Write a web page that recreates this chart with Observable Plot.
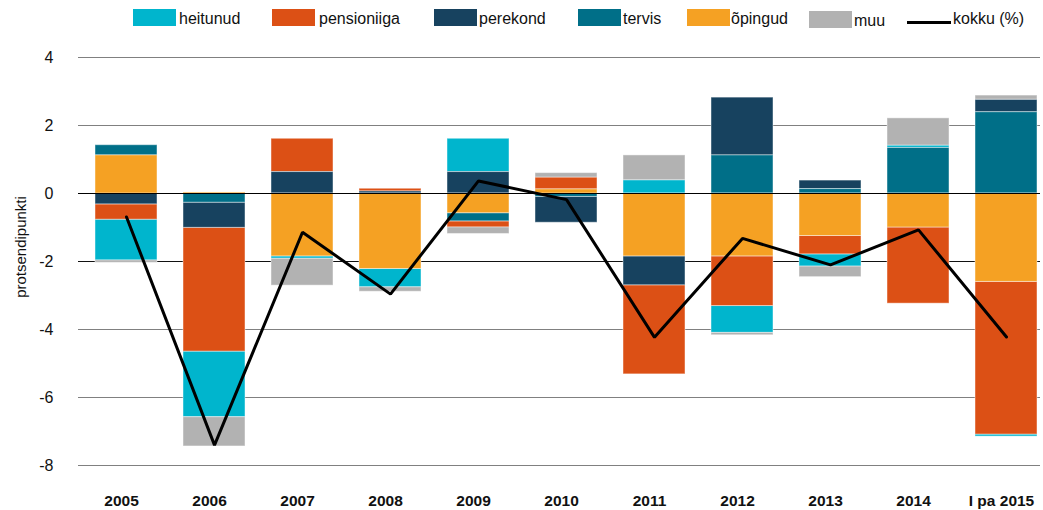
<!DOCTYPE html>
<html>
<head>
<meta charset="utf-8">
<script src="https://cdn.jsdelivr.net/npm/d3@7"></script>
<script src="https://cdn.jsdelivr.net/npm/@observablehq/plot@0.6"></script>
<style>
  html, body { margin: 0; padding: 0; background: #fff; overflow: hidden; }
  #wrap { position: relative; width: 1043px; height: 510px; font-family: "Liberation Sans", Arial, sans-serif; }
  .lg { position: absolute; font-size: 16px; color: #111; line-height: 1; white-space: nowrap; }
  .sw { position: absolute; width: 43px; height: 17px; }
  #ylab { position: absolute; font-size: 15px; color: #111; white-space: nowrap; transform: translate(-50%, -50%) rotate(-90deg); left: 20px; top: 247px; }
</style>
</head>
<body>
<div id="wrap"></div>
<script>
const years = ["2005","2006","2007","2008","2009","2010","2011","2012","2013","2014","I pa 2015"];
const seriesNames = ["heitunud","pensioniiga","perekond","tervis","õpingud","muu"];
const seriesColors = ["#00b5cd","#dc5015","#17425f","#006f88","#f5a123","#b2b2b2"];
const stackOrder = ["õpingud","tervis","perekond","pensioniiga","heitunud","muu"];

const heitunud    = [-1.20, -1.93, -0.07, -0.54,  0.98,  0.00,  0.39, -0.79, -0.36,  0.07, -0.06];
const pensioniiga = [-0.45, -3.64,  0.98,  0.08, -0.18,  0.35, -2.62, -1.46, -0.54, -2.24, -4.49];
const perekond    = [-0.32, -0.74,  0.63,  0.06,  0.63, -0.76, -0.85,  1.70,  0.25,  0.00,  0.37];
const tervis      = [ 0.30, -0.27,  0.00,  0.00, -0.24, -0.10,  0.00,  1.12,  0.13,  1.34,  2.39];
const opingud     = [ 1.12,  0.03, -1.85, -2.22, -0.58,  0.12, -1.85, -1.85, -1.25, -1.00, -2.60];
const muu         = [-0.07, -0.86, -0.79, -0.13, -0.19,  0.13,  0.73, -0.07, -0.31,  0.80,  0.12];
const kokku       = [-0.69, -7.40, -1.14, -2.96,  0.37, -0.18, -4.23, -1.32, -2.10, -1.07, -4.22];

const yTicks = [4, 2, 0, -2, -4, -6, -8];
const yLabel = "protsendipunkti";
const lineLabel = "kokku (%)";

const seriesValues = [heitunud, pensioniiga, perekond, tervis, opingud, muu];
const rows = [];
seriesNames.forEach((s, i) => years.forEach((yr, j) => rows.push({year: yr, series: s, value: seriesValues[i][j]})));
const totals = years.map((yr, j) => ({year: yr, value: kokku[j]}));

const chart = Plot.plot({
  width: 1043,
  height: 510,
  marginLeft: 78,
  marginRight: 3,
  marginTop: 57,
  marginBottom: 45,
  style: {fontFamily: "'Liberation Sans', Arial, sans-serif", background: "transparent", color: "#111"},
  x: {domain: years, range: [79, 1052], paddingInner: 0.3, paddingOuter: 0.15, label: null},
  y: {domain: [-8, 4], range: [465, 57], label: null},
  color: {domain: seriesNames, range: seriesColors},
  marks: [
    Plot.ruleY(yTicks.filter(t => t !== 0), {stroke: d => d === -2 ? "#111" : "#808080", strokeWidth: 1}),
    Plot.barY(rows, Plot.stackY({order: stackOrder, x: "year", y: "value", fill: "series", z: "series", stroke: "#ffffff", strokeOpacity: 0.45, strokeWidth: 1})),
    Plot.ruleY([0], {stroke: "#000", strokeWidth: 1}),
    Plot.line(totals, {x: "year", y: "value", stroke: "#000", strokeWidth: 3, strokeLinejoin: "miter"}),
    Plot.axisY({ticks: yTicks, tickSize: 0, tickPadding: 25, fontSize: 16, tickFormat: d => String(d).replace("−", "-"), label: null}),
    Plot.axisX({tickSize: 0, tickPadding: 29, fontSize: 15.5, fontWeight: "bold", dx: -5, label: null})
  ]
});

const wrap = document.getElementById("wrap");
wrap.appendChild(chart);

// legend
const legendPos = [
  {sx: 133, tx: 179, sy: 9, ty: 11},
  {sx: 272, tx: 319, sy: 9, ty: 11},
  {sx: 434, tx: 479, sy: 9, ty: 11},
  {sx: 578, tx: 623, sy: 9, ty: 11},
  {sx: 687, tx: 731, sy: 9, ty: 11},
  {sx: 809, tx: 854, sy: 11, ty: 13}
];
seriesNames.forEach((s, i) => {
  const p = legendPos[i];
  const sw = document.createElement("div");
  sw.className = "sw";
  sw.style.left = p.sx + "px"; sw.style.top = p.sy + "px"; sw.style.background = seriesColors[i];
  wrap.appendChild(sw);
  const t = document.createElement("div");
  t.className = "lg";
  t.style.left = p.tx + "px"; t.style.top = p.ty + "px";
  t.textContent = s;
  wrap.appendChild(t);
});
const ln = document.createElement("div");
ln.style.cssText = "position:absolute;left:907px;top:21px;width:44px;height:2.5px;background:#000;";
wrap.appendChild(ln);
const lt = document.createElement("div");
lt.className = "lg";
lt.style.left = "953px"; lt.style.top = "11px";
lt.textContent = lineLabel;
wrap.appendChild(lt);

const yl = document.createElement("div");
yl.id = "ylab";
yl.textContent = yLabel;
wrap.appendChild(yl);
</script>
</body>
</html>
